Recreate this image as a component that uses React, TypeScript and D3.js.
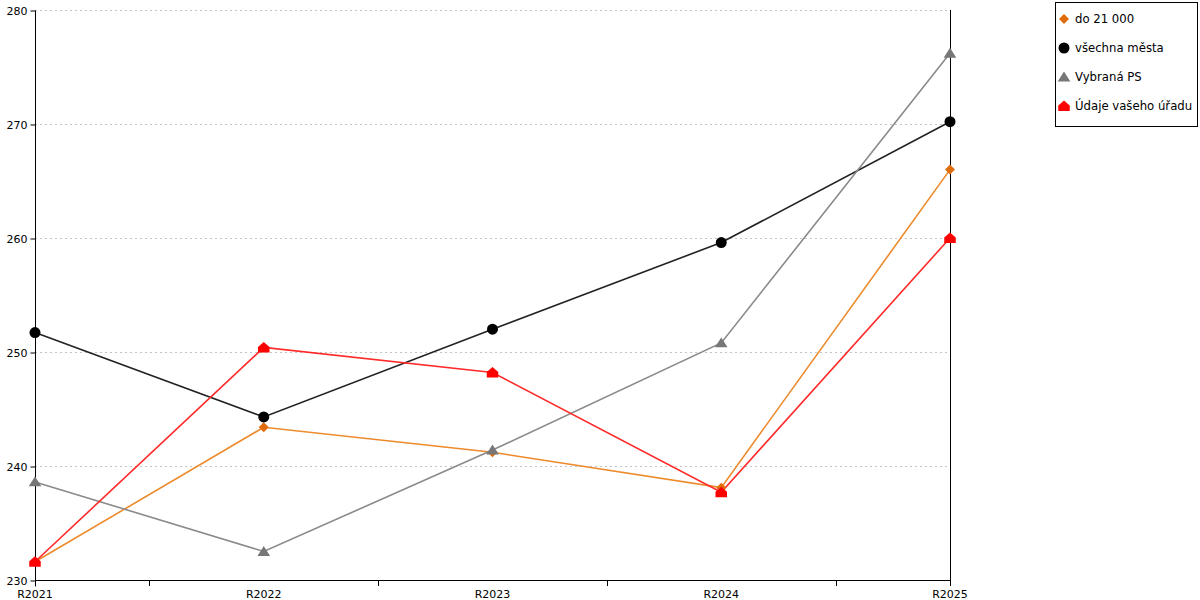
import { useEffect, useRef } from 'react';
import * as d3 from 'd3';

const categories = ['R2021', 'R2022', 'R2023', 'R2024', 'R2025'];
const seriesNames = ['do 21 000', 'všechna města', 'Vybraná PS', 'Údaje vašeho úřadu'];
const do21000 = [231.6, 243.4, 241.2, 238.1, 266.0];
const vsechnaMesta = [251.7, 244.3, 252.0, 259.6, 270.2];
const vybranaPS = [238.6, 232.5, 241.4, 250.8, 276.2];
const udajeUradu = [231.6, 250.4, 248.2, 237.7, 260.0];
const yTicks = [230, 240, 250, 260, 270, 280];

const App = () => {
    const svgRef = useRef<SVGSVGElement | null>(null);

    useEffect(() => {
        const svg = d3.select(svgRef.current);
        svg.selectAll('*').remove();

        const width = 1200;
        const height = 600;
        const left = 35;
        const right = 950;
        const top = 10;
        const bottom = 580;
        const font = 'DejaVu Sans, Verdana, sans-serif';

        const x = d3.scalePoint<string>().domain(categories).range([left, right]);
        const y = d3.scaleLinear().domain([230, 280]).range([bottom, top]);

        svg.attr('width', width).attr('height', height);

        // grid lines
        svg.append('g')
            .selectAll('line')
            .data(yTicks.slice(1))
            .join('line')
            .attr('x1', left)
            .attr('x2', right)
            .attr('y1', d => y(d) + 0.5)
            .attr('y2', d => y(d) + 0.5)
            .attr('stroke', '#c4c4c4')
            .attr('stroke-dasharray', '2,3');

        // left axis
        const yAxis = svg.append('g')
            .attr('transform', `translate(${left + 0.5},0.5)`)
            .call(d3.axisLeft(y).tickValues(yTicks).tickSize(5).tickPadding(3).tickSizeOuter(0));
        yAxis.selectAll('text').attr('font-family', font).attr('font-size', 11).attr('fill', '#000');
        yAxis.selectAll('line, path').attr('stroke', '#000');
        yAxis.select('.domain').attr('d', `M0,${top}V${bottom + 6}`);

        // right axis line
        svg.append('line')
            .attr('x1', right + 0.5).attr('x2', right + 0.5)
            .attr('y1', top).attr('y2', bottom + 6)
            .attr('stroke', '#000');

        // bottom axis
        const step = x.step();
        const mids = categories.slice(0, -1).map(c => x(c)! + step / 2);
        svg.append('line')
            .attr('x1', left).attr('x2', right + 1)
            .attr('y1', bottom + 0.5).attr('y2', bottom + 0.5)
            .attr('stroke', '#000');
        svg.append('g')
            .selectAll('line')
            .data(mids)
            .join('line')
            .attr('x1', d => Math.round(d) + 0.5)
            .attr('x2', d => Math.round(d) + 0.5)
            .attr('y1', bottom)
            .attr('y2', bottom + 6)
            .attr('stroke', '#000');
        svg.append('g')
            .selectAll('text')
            .data(categories)
            .join('text')
            .attr('x', d => x(d)!)
            .attr('y', bottom + 18)
            .attr('text-anchor', 'middle')
            .attr('font-family', font)
            .attr('font-size', 11)
            .text(d => d);

        const diamond = (s: number) => `M0,${-s}L${s},0L0,${s}L${-s},0Z`;
        const triangle = (s: number) => `M0,${-s}L${s * 1.15},${s * 0.8}L${-s * 1.15},${s * 0.8}Z`;
        const circle = (s: number) => d3.symbol(d3.symbolCircle, Math.PI * s * s)()!;
        const house = (s: number) => `M0,${-s * 1.1}L${s * 1.15},${-s * 0.1}L${s * 1.15},${s}L${-s * 1.15},${s}L${-s * 1.15},${-s * 0.1}Z`;

        const series = [
            { name: seriesNames[0], values: do21000, line: '#ec8a2c', marker: '#df6d0c', shape: diamond, size: 5 },
            { name: seriesNames[1], values: vsechnaMesta, line: '#222', marker: '#000', shape: circle, size: 5.5 },
            { name: seriesNames[2], values: vybranaPS, line: '#8a8a8a', marker: '#777', shape: triangle, size: 5.5 },
            { name: seriesNames[3], values: udajeUradu, line: '#ff2a2a', marker: '#ff0000', shape: house, size: 5 },
        ];

        const line = d3.line<number>()
            .x((_, i) => x(categories[i])!)
            .y(d => y(d));

        series.forEach(s => {
            svg.append('path')
                .datum(s.values)
                .attr('d', line)
                .attr('fill', 'none')
                .attr('stroke', s.line)
                .attr('stroke-width', 1.6);
        });
        series.forEach(s => {
            svg.append('g')
                .selectAll('path')
                .data(s.values)
                .join('path')
                .attr('transform', (d, i) => `translate(${x(categories[i])},${y(d)})`)
                .attr('d', s.shape(s.size))
                .attr('fill', s.marker);
        });

        // legend
        const lg = svg.append('g');
        lg.append('rect')
            .attr('x', 1055.5).attr('y', 2.5)
            .attr('width', 142).attr('height', 124)
            .attr('fill', '#fff').attr('stroke', '#000');
        series.forEach((s, i) => {
            const cy = 19 + i * 29;
            lg.append('path')
                .attr('transform', `translate(1064,${cy})`)
                .attr('d', s.shape(s.size))
                .attr('fill', s.marker);
            lg.append('text')
                .attr('x', 1075)
                .attr('y', cy + 4)
                .attr('font-family', font)
                .attr('font-size', 11.7)
                .text(s.name);
        });
    }, []);

    return (
        <svg ref={svgRef} style={{ position: 'absolute', left: 0, top: 0 }}></svg>
    );
};

export default App;
